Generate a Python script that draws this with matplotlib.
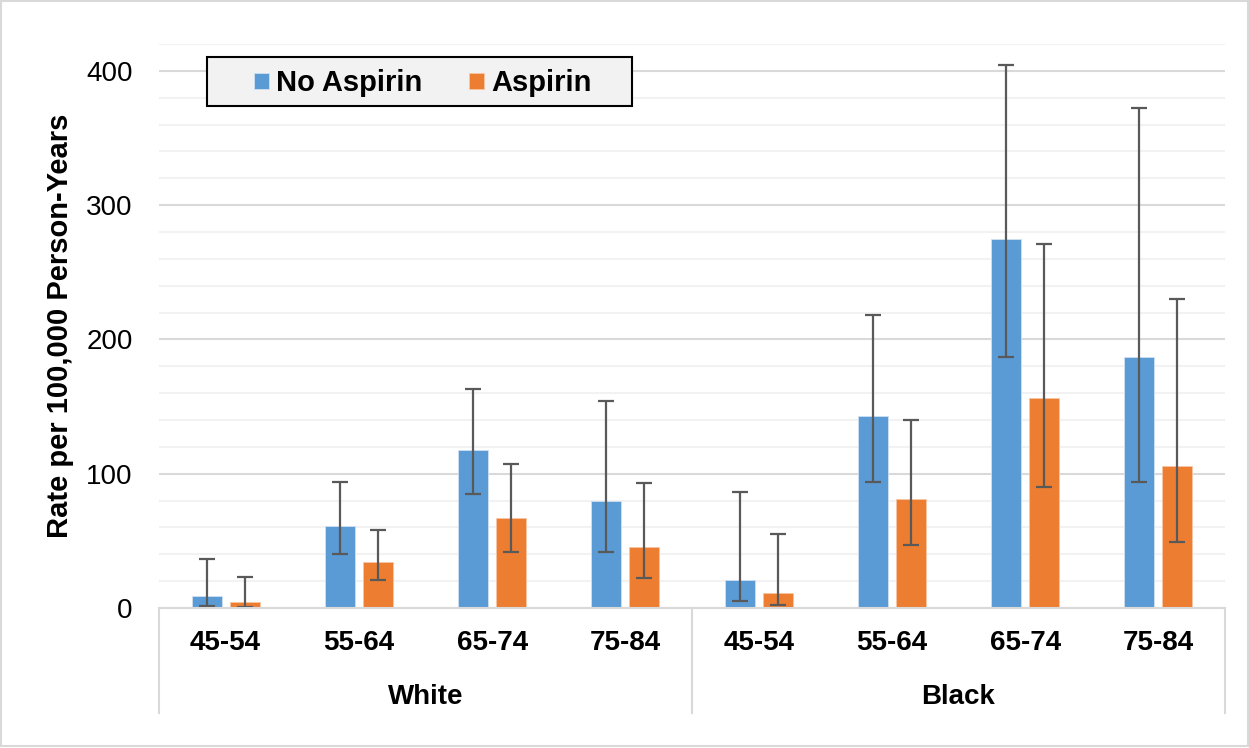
"""Rate per 100,000 person-years by race, age group and aspirin use"""

import numpy as np
import matplotlib.pyplot as plt
from matplotlib.patches import Rectangle

plt.rcParams['font.family'] = ['Liberation Sans', 'DejaVu Sans']

# Data
races = ['White', 'Black']
ages = ['45-54', '55-64', '65-74', '75-84']

no_aspirin = [8.6, 61, 118, 80, 21, 143, 275, 187]
no_aspirin_lo = [1.7, 40, 85, 42, 5, 94, 187, 94]
no_aspirin_hi = [36.5, 94, 163, 154, 86, 218, 404, 372]

aspirin = [4.5, 34.5, 67, 45.5, 11.5, 81, 156, 106]
aspirin_lo = [1, 21, 42, 22, 2.5, 47, 90, 49]
aspirin_hi = [23, 58, 107, 93, 55, 140, 271, 230]

BLUE = '#5B9BD5'
ORANGE = '#ED7D31'
ERR = '#595959'


def main():
    fig = plt.figure(figsize=(12.49, 7.48), dpi=100)
    ax = fig.add_axes([0.1273, 0.1872, 0.8535, 0.754])

    n = len(no_aspirin)
    x = np.arange(n)
    width = 0.225
    off = 0.143

    yerr_b = [np.array(no_aspirin) - np.array(no_aspirin_lo),
              np.array(no_aspirin_hi) - np.array(no_aspirin)]
    yerr_o = [np.array(aspirin) - np.array(aspirin_lo),
              np.array(aspirin_hi) - np.array(aspirin)]

    err_kw = dict(ecolor=ERR, elinewidth=1.6, capsize=6, capthick=1.6)
    ax.bar(x - off, no_aspirin, width, color=BLUE, label='No Aspirin',
           edgecolor='#cfe0f2', linewidth=0.6,
           yerr=yerr_b, error_kw=err_kw, zorder=3)
    ax.bar(x + off, aspirin, width, color=ORANGE, label='Aspirin',
           edgecolor='#f7c6a5', linewidth=0.6,
           yerr=yerr_o, error_kw=err_kw, zorder=3)

    ax.set_xlim(-0.5, n - 0.5)
    ax.set_ylim(0, 420)
    ax.set_yticks([0, 100, 200, 300, 400])
    ax.set_yticks(np.arange(0, 421, 20), minor=True)
    ax.grid(True, which='minor', axis='y', color='#f2f2f2', linewidth=1.5, zorder=0)
    ax.grid(True, which='major', axis='y', color='#d9d9d9', linewidth=1.5, zorder=1)
    ax.tick_params(axis='y', which='both', length=0, labelsize=20, pad=19)
    ax.tick_params(axis='x', length=0, labelbottom=False)
    for s in ['top', 'right', 'left']:
        ax.spines[s].set_visible(False)
    ax.spines['bottom'].set_color('#d9d9d9')
    ax.spines['bottom'].set_linewidth(1.5)
    ax.spines['bottom'].set_zorder(4)

    ax.set_ylabel('Rate per 100,000 Person-Years', fontsize=21,
                  fontweight='bold')
    ax.yaxis.set_label_coords(-0.080, 0.5)

    # two-level category axis
    trans = ax.get_xaxis_transform()
    for i in range(n):
        ax.text(x[i], -0.062, ages[i % len(ages)], transform=trans,
                ha='center', va='center', fontsize=20, fontweight='bold')
    for j, race in enumerate(races):
        center = j * len(ages) + (len(ages) - 1) / 2
        ax.text(center, -0.158, race, transform=trans, ha='center',
                va='center', fontsize=20, fontweight='bold')
    for xv in [-0.5, len(ages) - 0.5, n - 0.5]:
        ax.plot([xv, xv], [0, -0.186], transform=trans, color='#d9d9d9',
                linewidth=1.5, clip_on=False)

    # legend box drawn separately so its padding matches the reference
    ax.add_patch(Rectangle((0.045, 0.890), 0.3987, 0.087,
                           transform=ax.transAxes, facecolor='#f2f2f2',
                           edgecolor='black', linewidth=1.5, zorder=5))
    leg = ax.legend(loc='center', bbox_to_anchor=(0.2475, 0.9305), ncol=2,
                    prop={'weight': 'bold', 'size': 21}, frameon=False,
                    handlelength=0.5, handleheight=0.5, handletextpad=0.25,
                    columnspacing=1.6, borderpad=0, borderaxespad=0)
    leg.set_zorder(6)

    # outer border of the chart
    fig.patches.append(Rectangle((0.001, 0.003), 0.998, 0.995,
                                 transform=fig.transFigure, fill=False,
                                 edgecolor='#d9d9d9', linewidth=1.5))

    fig.savefig('out.png', dpi=100)
    plt.close(fig)


if __name__ == '__main__':
    main()
